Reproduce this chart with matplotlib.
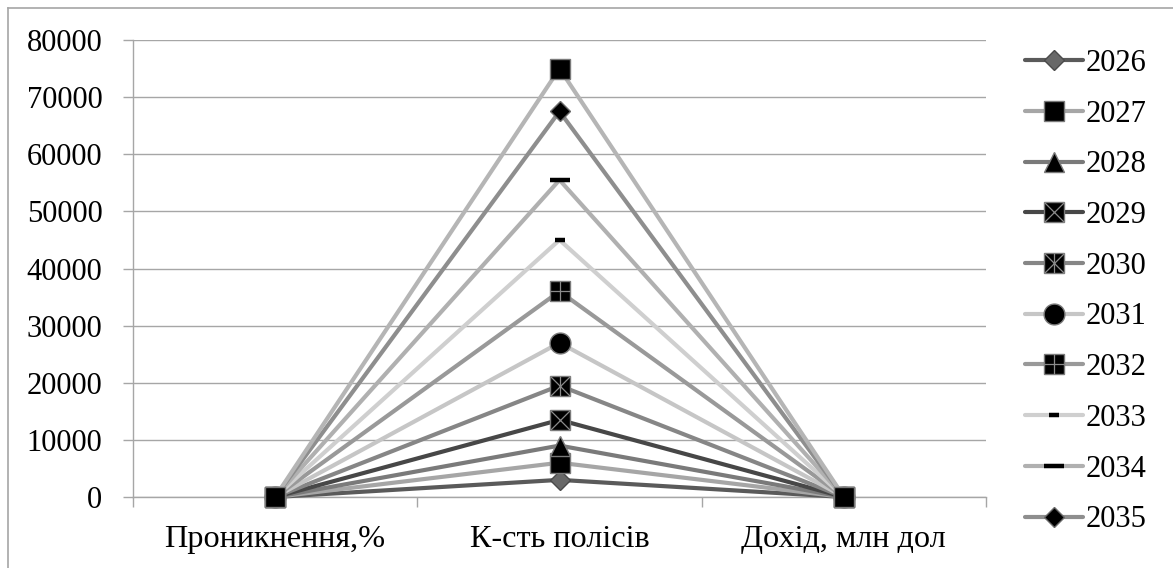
import matplotlib
matplotlib.use("Agg")
import matplotlib.pyplot as plt
from matplotlib.lines import Line2D
from matplotlib.ticker import FixedLocator

plt.rcParams['font.family'] = ['Liberation Serif', 'DejaVu Serif']

categories = ["Проникнення,%", "К-сть полісів", "Дохід, млн дол"]
years = ["2026", "2027", "2028", "2029", "2030", "2031", "2032", "2033", "2034", "2035", "2036"]

penetration = [0.5, 1.0, 1.5, 2.3, 3.3, 4.5, 6.0, 7.5, 9.3, 11.3, 12.5]
policies = [3000, 6000, 9000, 13500, 19500, 27000, 36000, 45000, 55500, 67500, 75000]
revenue = [2, 4, 6, 9, 13, 18, 24, 30, 37, 45, 50]
in_legend = [True] * 10 + [False]

line_colors = ['#5a5a5a', '#a6a6a6', '#7a7a7a', '#474747', '#868686',
               '#c6c6c6', '#999999', '#cfcfcf', '#b0b0b0', '#8e8e8e', '#b5b5b5']

# base marker per series: (marker, size, face, edge, edge width)
base_markers = [
    ('D', 10.5, '#686868', '#4a4a4a', 1.0),
    ('s', 14.5, 'black', '#7a7a7a', 1.0),
    ('^', 15.0, 'black', '#7a7a7a', 1.0),
    ('s', 14.5, 'black', '#7a7a7a', 1.0),
    ('s', 14.5, 'black', '#7a7a7a', 1.0),
    ('o', 15.0, 'black', '#7a7a7a', 1.0),
    ('s', 14.5, 'black', '#7a7a7a', 1.0),
    ('_', 6.5, 'black', 'black', 3.2),
    ('_', 14.5, 'black', 'black', 3.2),
    ('D', 10.5, 'black', '#6a6a6a', 1.0),
    ('s', 14.5, 'black', '#7a7a7a', 1.0),
]
# inner strokes drawn on top of some square markers
overlays = {3: ['x'], 4: ['x', '|'], 6: ['+']}

fig = plt.figure(figsize=(11.73, 5.68), dpi=100)
ax = fig.add_axes([133 / 1173, 1 - 497 / 568, (986 - 133) / 1173, (497 - 40) / 568])

x = list(range(len(categories)))
handles, labels = [], []
for i, yr in enumerate(years):
    vals = [penetration[i], policies[i], revenue[i]]
    m, ms, fc, ec, mew = base_markers[i]
    ln, = ax.plot(x, vals, color=line_colors[i], lw=3.0, marker=m, markersize=ms,
                  markerfacecolor=fc, markeredgecolor=ec, markeredgewidth=mew,
                  solid_capstyle='round', zorder=3 + i, clip_on=False)
    group = [ln]
    for om in overlays.get(i, []):
        ov, = ax.plot(x, vals, linestyle='none', marker=om, markersize=ms - 0.5,
                      markeredgecolor='#8a8a8a', markeredgewidth=0.9, zorder=3 + i,
                      clip_on=False)
        group.append(ov)
    if in_legend[i]:
        handles.append(tuple(group) if len(group) > 1 else ln)
        labels.append(yr)

ax.set_xlim(-0.5, 2.5)
ax.set_ylim(0, 80000)
ax.set_yticks(range(0, 80001, 10000))
ax.set_xticks(x)
ax.set_xticklabels(categories, fontsize=23.2)
ax.xaxis.set_minor_locator(FixedLocator([-0.5, 0.5, 1.5, 2.5]))

ax.grid(axis='y', color='#a6a6a6', linewidth=1.0, zorder=0)
ax.set_axisbelow(True)
for side in ('top', 'right'):
    ax.spines[side].set_visible(False)
for side in ('left', 'bottom'):
    ax.spines[side].set_color('#a6a6a6')
    ax.spines[side].set_linewidth(1.0)

ax.tick_params(axis='y', length=7, width=1, color='#a6a6a6', pad=15, labelsize=22)
ax.tick_params(axis='x', which='major', length=0, pad=20)
ax.tick_params(axis='x', which='minor', length=7, width=1, color='#a6a6a6')

fig.legend(handles, labels, loc='upper left', bbox_to_anchor=(1025 / 1173, 1 - 49 / 568),
           frameon=False, fontsize=22, handlelength=1.9, handletextpad=0.1,
           labelspacing=0.71, borderaxespad=0, borderpad=0)

# outer chart frame edges
fig.add_artist(Line2D([8 / 1173, 8 / 1173], [0, 1 - 8 / 568], transform=fig.transFigure,
                      color='#a6a6a6', lw=1.2))
fig.add_artist(Line2D([8 / 1173, 1], [1 - 8 / 568, 1 - 8 / 568], transform=fig.transFigure,
                      color='#a6a6a6', lw=1.2))

fig.savefig("out.png", dpi=100)
